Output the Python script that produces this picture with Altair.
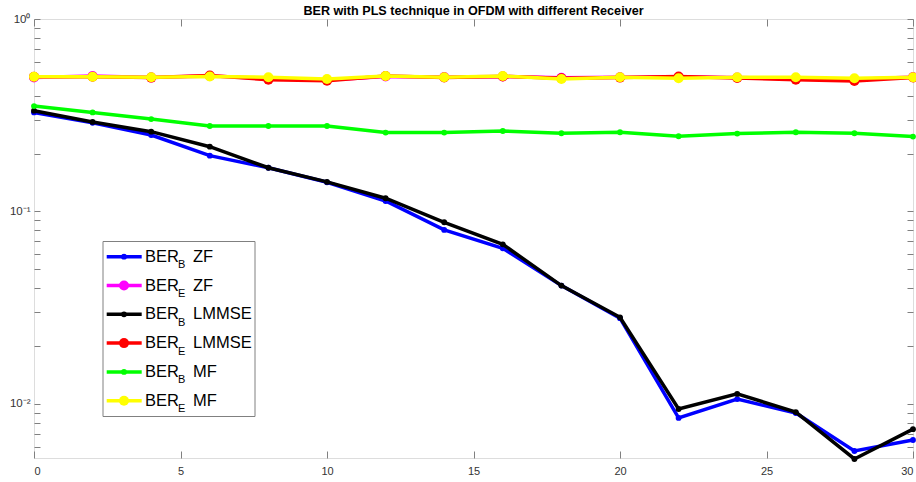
import altair as alt
import pandas as pd

# ---------------- data ----------------
snr = [0, 2, 4, 6, 8, 10, 12, 14, 16, 18, 20, 22, 24, 26, 28, 30]

ber_b_zf = [0.327, 0.289, 0.2496, 0.195, 0.1688, 0.1418, 0.1134, 0.0802, 0.0644, 0.0412,
            0.0279, 0.00846, 0.0106, 0.00898, 0.0057, 0.0065]
ber_e_zf = [0.497, 0.505, 0.496, 0.506, 0.490, 0.482, 0.503, 0.500, 0.503, 0.495,
            0.498, 0.500, 0.497, 0.490, 0.485, 0.500]
ber_b_lmmse = [0.334, 0.292, 0.2598, 0.2171, 0.1688, 0.1425, 0.1172, 0.0879, 0.0675, 0.0412,
               0.0282, 0.00942, 0.01128, 0.00908, 0.00518, 0.0074]
ber_e_lmmse = [0.501, 0.501, 0.496, 0.508, 0.484, 0.478, 0.506, 0.497, 0.503, 0.492,
               0.496, 0.503, 0.494, 0.484, 0.476, 0.497]
ber_b_mf = [0.353, 0.327, 0.302, 0.278, 0.278, 0.278, 0.257, 0.257, 0.262, 0.255,
            0.258, 0.246, 0.254, 0.258, 0.255, 0.245]
ber_e_mf = [0.501, 0.501, 0.498, 0.503, 0.498, 0.488, 0.506, 0.498, 0.506, 0.488,
            0.498, 0.492, 0.498, 0.498, 0.492, 0.498]

series_names = ["BER_B ZF", "BER_E ZF", "BER_B LMMSE", "BER_E LMMSE", "BER_B MF", "BER_E MF"]
series_values = [ber_b_zf, ber_e_zf, ber_b_lmmse, ber_e_lmmse, ber_b_mf, ber_e_mf]
series_colors = ["#0000ff", "#ff00ff", "#000000", "#ff0000", "#00ff00", "#ffff00"]
legend_sub = ["B", "E", "B", "E", "B", "E"]
legend_suffix = ["ZF", "ZF", "LMMSE", "LMMSE", "MF", "MF"]

x_ticks = [0, 5, 10, 15, 20, 25, 30]
y_ticks = [0.006, 0.007, 0.008, 0.009,
           0.01, 0.02, 0.03, 0.04, 0.05, 0.06, 0.07, 0.08, 0.09,
           0.1, 0.2, 0.3, 0.4, 0.5, 0.6, 0.7, 0.8, 0.9, 1]

title_text = "BER with PLS technique in OFDM with different Receiver"

# ---------------- chart ----------------
FONT = "Liberation Sans"
AXC = "#808080"

x_scale = alt.Scale(domain=[0, 30], nice=False, zero=False)
y_scale = alt.Scale(type="log", domain=[0.00524, 1], nice=False)

y_label_expr = ("datum.value == 1 ? '10⁰' : (datum.value == 0.1 ? '10⁻¹' : "
                "(datum.value == 0.01 ? '10⁻²' : ''))")

x_axis = alt.Axis(orient="bottom", values=x_ticks, title=None, grid=False, domain=False,
                  tickSize=7, offset=-7, tickColor=AXC, labelColor="#333333",
                  labelFontSize=11, labelFont=FONT, labelPadding=7)
y_axis = alt.Axis(orient="left", values=y_ticks, title=None, grid=False, domain=False,
                  tickSize=6, offset=-6, tickColor=AXC, labelColor="#333333",
                  labelFontSize=11.5, labelFont=FONT, labelPadding=4, labelExpr=y_label_expr)

x_enc = alt.X("snr:Q", scale=x_scale, axis=x_axis)
y_enc = alt.Y("ber:Q", scale=y_scale, axis=y_axis)

layers = []
for name, vals, col, sub in zip(series_names, series_values, series_colors, legend_sub):
    df = pd.DataFrame({"snr": snr, "ber": vals, "series": name})
    msize = 100 if sub == "E" else 34
    layer = alt.Chart(df).mark_line(
        color=col, strokeWidth=3.5,
        point=alt.OverlayMarkDef(filled=True, size=msize, color=col, opacity=1),
    ).encode(x=x_enc, y=y_enc)
    layers.append(layer)

data_layers = alt.layer(*layers)

# top / right inward ticks (box)
frame_df = pd.DataFrame({"snr": snr, "ber": ber_e_mf})
frame = alt.Chart(frame_df).mark_point(opacity=0).encode(
    x=alt.X("snr:Q", scale=x_scale,
            axis=alt.Axis(orient="top", values=x_ticks, labels=False, title=None, grid=False,
                          domain=False, tickSize=7, offset=-7, tickColor=AXC)),
    y=alt.Y("ber:Q", scale=y_scale,
            axis=alt.Axis(orient="right", values=y_ticks, labels=False, title=None, grid=False,
                          domain=False, tickSize=6, offset=-6, tickColor=AXC)),
)

# ---------------- custom legend (MATLAB-like, with subscripts) ----------------
leg_df = pd.DataFrame({
    "row": list(range(len(series_names))),
    "color": series_colors,
    "sub": legend_sub,
    "suffix": legend_suffix,
    "msize": [34 if s == "B" else 100 for s in legend_sub],
})
leg_base = alt.Chart(leg_df).transform_calculate(ly="237.7 + datum.row * 28.8")

leg_box = alt.Chart(pd.DataFrame({"k": [0]})).mark_rect(
    fill="white", stroke=AXC, strokeWidth=1
).encode(x=alt.value(69), x2=alt.value(221), y=alt.value(222.5), y2=alt.value(397.5))

leg_line = leg_base.mark_rule(strokeWidth=3.5).encode(
    x=alt.value(72.7), x2=alt.value(107.7),
    y=alt.Y("ly:Q", scale=None, axis=None),
    color=alt.Color("color:N", scale=None, legend=None),
)
leg_pt = leg_base.mark_point(filled=True, opacity=1).encode(
    x=alt.value(90),
    y=alt.Y("ly:Q", scale=None, axis=None),
    color=alt.Color("color:N", scale=None, legend=None),
    size=alt.Size("msize:Q", scale=None, legend=None),
)
leg_ber = leg_base.mark_text(align="left", baseline="alphabetic", font=FONT, fontSize=16.5,
                             color="black", dy=5, text="BER").encode(
    x=alt.value(111), y=alt.Y("ly:Q", scale=None, axis=None))
leg_sub = leg_base.mark_text(align="left", baseline="alphabetic", font=FONT, fontSize=11,
                             color="black", dy=11.5).encode(
    x=alt.value(144), y=alt.Y("ly:Q", scale=None, axis=None), text="sub:N")
leg_suf = leg_base.mark_text(align="left", baseline="alphabetic", font=FONT, fontSize=16.5,
                             color="black", dy=5).encode(
    x=alt.value(159), y=alt.Y("ly:Q", scale=None, axis=None), text="suffix:N")

chart = alt.layer(
    data_layers, frame, leg_box, leg_line, leg_pt, leg_ber, leg_sub, leg_suf
).resolve_axis(
    x="independent", y="independent"
).properties(
    width=879, height=439,
    title=alt.TitleParams(title_text, font=FONT, fontSize=12.6, fontWeight="bold",
                          color="black", anchor="middle", offset=-5),
    autosize=alt.AutoSizeParams(type="none"),
    padding={"left": 34, "top": 19, "right": 3, "bottom": 24},
).configure_view(
    stroke=AXC, strokeWidth=1
).configure(background="white")

chart.save("out.html", embed_options={"renderer": "svg", "actions": False})
